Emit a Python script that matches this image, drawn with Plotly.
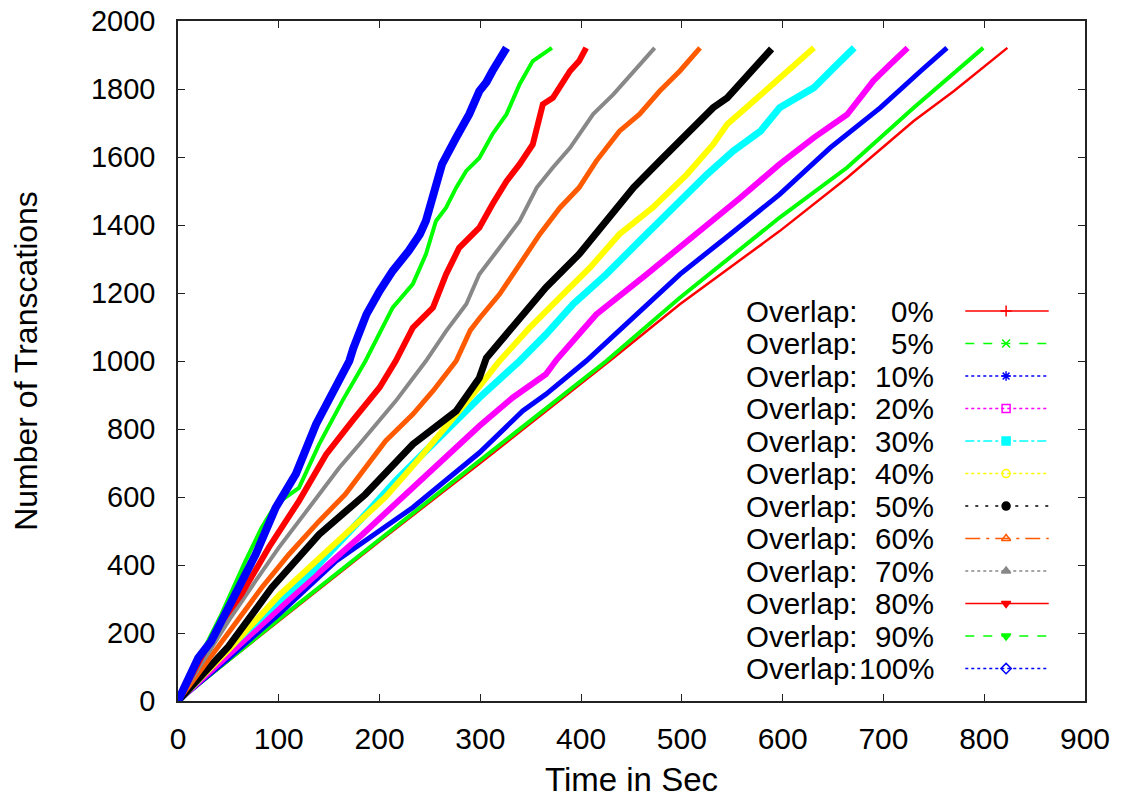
import plotly.graph_objects as go

# ---------------- data ----------------
labels = ["0%", "5%", "10%", "20%", "30%", "40%", "50%", "60%", "70%", "80%", "90%", "100%"]

t_0 = [0, 100, 200, 300, 432, 498, 597, 664, 730, 770, 823]
n_0 = [0, 235, 470, 700, 1009, 1167, 1382, 1539, 1706, 1794, 1921]

t_5 = [0, 100, 200, 299, 425, 498, 597, 664, 730, 799]
n_5 = [0, 240, 475, 706, 1000, 1186, 1422, 1569, 1745, 1921]

t_10 = [0, 50, 100, 157, 233, 299, 342, 365, 405, 448, 498, 548, 597, 647, 697, 737, 763]
n_10 = [0, 125, 255, 412, 569, 730, 853, 902, 1000, 1118, 1255, 1373, 1490, 1627, 1745, 1853, 1921]

t_20 = [0, 40, 83, 133, 183, 233, 299, 332, 365, 376, 415, 465, 515, 558, 597, 631, 664, 690, 707, 724]
n_20 = [0, 110, 225, 360, 490, 625, 809, 892, 961, 1005, 1137, 1255, 1373, 1480, 1579, 1657, 1725, 1824, 1873, 1921]

t_30 = [0, 50, 100, 133, 183, 216, 249, 299, 339, 365, 392, 425, 458, 491, 525, 551, 578, 597, 631, 651, 671]
n_30 = [0, 155, 295, 382, 539, 647, 745, 892, 1000, 1078, 1167, 1255, 1353, 1451, 1549, 1618, 1676, 1745, 1804, 1863, 1921]

t_40 = [0, 50, 100, 166, 206, 240, 266, 299, 319, 349, 382, 409, 438, 471, 505, 531, 545, 571, 597, 631]
n_40 = [0, 150, 310, 490, 600, 715, 805, 925, 1000, 1098, 1196, 1275, 1373, 1451, 1549, 1637, 1696, 1765, 1833, 1921]

t_50 = [0, 50, 93, 140, 186, 233, 276, 299, 306, 332, 365, 398, 425, 452, 478, 505, 531, 545, 565, 589]
n_50 = [0, 160, 333, 490, 608, 755, 853, 950, 1009, 1098, 1216, 1314, 1412, 1510, 1588, 1667, 1745, 1774, 1843, 1918]

t_60 = [0, 53, 83, 110, 140, 166, 186, 206, 233, 253, 276, 290, 299, 319, 339, 359, 379, 398, 415, 438, 458, 478, 498, 518]
n_60 = [0, 216, 333, 431, 529, 608, 686, 765, 843, 912, 1000, 1090, 1125, 1196, 1284, 1373, 1451, 1510, 1588, 1676, 1726, 1794, 1853, 1921]

t_70 = [0, 50, 77, 100, 120, 140, 160, 180, 200, 216, 246, 266, 286, 299, 319, 339, 356, 372, 389, 398, 412, 432, 452, 473]
n_70 = [0, 235, 353, 451, 529, 608, 686, 755, 824, 882, 1000, 1088, 1167, 1255, 1333, 1412, 1510, 1569, 1627, 1667, 1726, 1784, 1853, 1921]

t_80 = [0, 37, 63, 90, 120, 147, 173, 200, 216, 233, 253, 266, 279, 292, 299, 312, 326, 339, 352, 362, 372, 389, 398, 405]
n_80 = [0, 206, 314, 451, 588, 725, 824, 922, 1000, 1098, 1157, 1255, 1333, 1373, 1392, 1461, 1529, 1579, 1637, 1755, 1774, 1853, 1882, 1921]

t_90 = [0, 43, 67, 83, 97, 120, 140, 163, 186, 200, 213, 233, 246, 256, 266, 276, 286, 299, 312, 326, 339, 352, 371]
n_90 = [0, 255, 412, 510, 578, 627, 755, 882, 1000, 1079, 1157, 1226, 1314, 1412, 1451, 1510, 1559, 1597, 1667, 1726, 1814, 1882, 1921]

t_100 = [0, 20, 33, 57, 77, 97, 117, 137, 160, 170, 174, 187, 200, 213, 229, 240, 246, 256, 262, 276, 289, 299, 306, 312, 318, 326]
n_100 = [0, 126, 176, 314, 431, 569, 668, 814, 941, 1000, 1038, 1137, 1206, 1265, 1324, 1373, 1412, 1529, 1579, 1657, 1726, 1794, 1820, 1853, 1880, 1921]

x_ticks = [0, 100, 200, 300, 400, 500, 600, 700, 800, 900]
y_ticks = [0, 200, 400, 600, 800, 1000, 1200, 1400, 1600, 1800, 2000]

# ---------------- styles ----------------
series_t = [t_0, t_5, t_10, t_20, t_30, t_40, t_50, t_60, t_70, t_80, t_90, t_100]
series_n = [n_0, n_5, n_10, n_20, n_30, n_40, n_50, n_60, n_70, n_80, n_90, n_100]
colors = ["#ff0000", "#00ff00", "#0000ff", "#ff00ff", "#00ffff", "#ffff00",
          "#000000", "#ff5a00", "#888888", "#ff0000", "#00ff00", "#0000ff"]
widths = [2.5, 4, 5, 6, 7, 6, 7, 5, 4, 6, 4, 8]
dashes = ["solid", "dash", "dot", "dot", "dashdot", "dot",
          "3px,7px", "longdashdot", "dot", "solid", "dash", "dot"]
symbols = ["cross-thin-open", "x-thin-open", "asterisk-open", "square-open", "square",
           "circle-open", "circle", "triangle-up-open", "triangle-up", "triangle-down",
           "triangle-down", "diamond-open"]

FONT = "Liberation Sans, Arial, Helvetica, sans-serif"

fig = go.Figure()

for t, n, c, w, lab in zip(series_t, series_n, colors, widths, labels):
    fig.add_trace(go.Scatter(
        x=t, y=n, mode="lines", name="Overlap:" + lab,
        line=dict(color=c, width=w), showlegend=False,
        xaxis="x", yaxis="y"))

# ---------------- gnuplot-style key (text left, sample right) ----------------
row0 = 0.5735      # fraction of plot height for first key row
row_step = 0.0478
key_line_x0, key_line_x1, key_mark_x = 0.868, 0.960, 0.913
key_text_left, key_text_right = 0.624, 0.836

for i, (c, d, s, lab) in enumerate(zip(colors, dashes, symbols, labels)):
    yy = row0 - i * row_step
    fig.add_trace(go.Scatter(
        x=[key_line_x0, key_line_x1], y=[yy, yy], mode="lines",
        line=dict(color=c, width=1.5, dash=d), showlegend=False,
        hoverinfo="skip", xaxis="x2", yaxis="y2"))
    fig.add_trace(go.Scatter(
        x=[key_mark_x], y=[yy], mode="markers",
        marker=dict(symbol=s, size=8, color=c, line=dict(color=c, width=1.5)),
        showlegend=False, hoverinfo="skip", xaxis="x2", yaxis="y2"))
    fig.add_annotation(x=key_text_left, y=yy, xref="paper", yref="paper",
                       text="Overlap:", showarrow=False, xanchor="left", yanchor="middle",
                       font=dict(family=FONT, size=29.5, color="black"))
    fig.add_annotation(x=key_text_right, y=yy, xref="paper", yref="paper",
                       text=lab, showarrow=False, xanchor="right", yanchor="middle",
                       font=dict(family=FONT, size=29.5, color="black"))

axis_common = dict(
    showgrid=False, zeroline=False, showline=True, linecolor="#222222", linewidth=1.5,
    mirror="ticks", ticks="inside", ticklen=7, tickwidth=1, tickcolor="#222222",
    automargin=False, ticklabeloverflow="allow",
)

fig.update_layout(
    width=1124, height=799,
    margin=dict(l=178, r=39, t=21, b=98),
    paper_bgcolor="white", plot_bgcolor="white",
    showlegend=False,
    font=dict(family=FONT, color="black"),
    xaxis=dict(range=[0, 900], tickvals=x_ticks, ticklabelstandoff=10,
               tickfont=dict(family=FONT, size=30, color="black"),
               title=dict(text="Time in Sec", font=dict(family=FONT, size=33, color="black"),
                          standoff=14),
               **axis_common),
    yaxis=dict(range=[0, 2000], tickvals=y_ticks, ticklabelstandoff=15,
               tickfont=dict(family=FONT, size=29, color="black"),
               title=dict(text="Number of Transcations",
                          font=dict(family=FONT, size=32, color="black"), standoff=44),
               **axis_common),
    xaxis2=dict(range=[0, 1], overlaying="x", visible=False, anchor="y2", automargin=False),
    yaxis2=dict(range=[0, 1], overlaying="y", visible=False, anchor="x2", automargin=False),
)

# remove the browser's default 8 px body margin so the figure fills the window exactly
fig.write_html("out.html", config={"displayModeBar": False},
               post_script="document.body.style.margin='0';")
